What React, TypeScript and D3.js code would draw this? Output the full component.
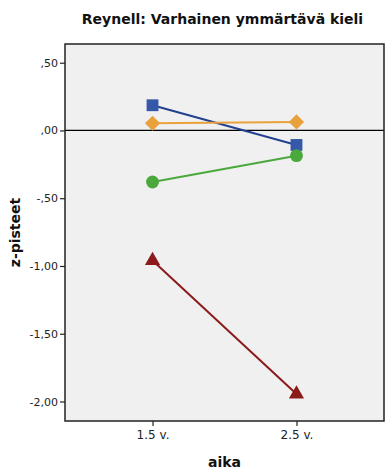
import { useEffect, useRef } from 'react';
import * as d3 from 'd3';

const TIMES = ['1.5 v.', '2.5 v.'];
const Y_TICKS = [0.5, 0, -0.5, -1, -1.5, -2];

const SQUARE = [0.186, -0.107];
const DIAMOND = [0.053, 0.063];
const CIRCLE = [-0.38, -0.186];
const TRIANGLE = [-0.96, -1.945];

const SERIES = [
  { name: 'square', values: SQUARE, line: '#22408f', fill: '#3558a8', symbol: d3.symbolSquare, size: 140, rot: 0 },
  { name: 'diamond', values: DIAMOND, line: '#e9a23b', fill: '#e9a23b', symbol: d3.symbolSquare, size: 115, rot: 45 },
  { name: 'circle', values: CIRCLE, line: '#4aa83c', fill: '#4aa83c', symbol: d3.symbolCircle, size: 130, rot: 0 },
  { name: 'triangle', values: TRIANGLE, line: '#8b1a1a', fill: '#8b1a1a', symbol: d3.symbolTriangle, size: 100, rot: 0 },
];

const fmt = (v: number) => {
  const s = Math.abs(v).toFixed(2).replace('.', ',').replace(/^0/, '');
  return (v < 0 ? '-' : '') + s;
};

export default function App() {
  const ref = useRef<SVGSVGElement>(null);

  useEffect(() => {
    if (!ref.current) return;
    const svg = d3.select(ref.current);
    svg.selectAll('*').remove();

    const W = 388, H = 473;
    const margin = { top: 44, right: 4, bottom: 52, left: 65 };
    const width = W - margin.left - margin.right;
    const height = H - margin.top - margin.bottom;
    const font = '"DejaVu Sans", sans-serif';

    svg.attr('width', W).attr('height', H);
    svg.append('rect').attr('width', W).attr('height', H).attr('fill', '#ffffff');

    const g = svg.append('g').attr('transform', `translate(${margin.left},${margin.top})`);

    const x = d3.scalePoint<string>().domain(TIMES).range([0, width]).padding(0.608);
    const y = d3.scaleLinear().domain([-2.144, 0.638]).range([height, 0]);

    g.append('rect').attr('width', width).attr('height', height).attr('fill', '#f0f0f0');

    // zero line
    g.append('line')
      .attr('x1', 0).attr('x2', width)
      .attr('y1', y(0)).attr('y2', y(0))
      .attr('stroke', '#000').attr('stroke-width', 1.2);

    // lines
    SERIES.forEach(s => {
      const line = d3.line<number>()
        .x((_, i) => x(TIMES[i])!)
        .y(v => y(v));
      g.append('path').datum(s.values)
        .attr('fill', 'none').attr('stroke', s.line).attr('stroke-width', 2)
        .attr('d', line);
    });

    // markers
    SERIES.forEach(s => {
      const sym = d3.symbol().type(s.symbol).size(s.size);
      g.selectAll(null).data(s.values).join('path')
        .attr('transform', (v, i) => `translate(${x(TIMES[i])},${y(v)}) rotate(${s.rot})`)
        .attr('d', sym)
        .attr('fill', s.fill);
    });

    // frame
    g.append('rect').attr('width', width).attr('height', height)
      .attr('fill', 'none').attr('stroke', '#222').attr('stroke-width', 1.5);

    const yAxis = g.append('g').call(d3.axisLeft(y).tickValues(Y_TICKS).tickSize(5).tickPadding(2).tickFormat(d => fmt(+d)));
    yAxis.select('.domain').remove();
    yAxis.selectAll('.tick line').attr('stroke', '#222').attr('stroke-width', 1.2);
    yAxis.selectAll('text').attr('font-family', font).attr('font-size', 11).attr('fill', '#222');

    const xAxis = g.append('g').attr('transform', `translate(0,${height})`)
      .call(d3.axisBottom(x).tickSize(5).tickPadding(4));
    xAxis.select('.domain').remove();
    xAxis.selectAll('.tick line').attr('stroke', '#222').attr('stroke-width', 1.2);
    xAxis.selectAll('text').attr('font-family', font).attr('font-size', 12).attr('fill', '#222');

    svg.append('text').attr('x', margin.left + width / 2 - 2).attr('y', 24)
      .attr('text-anchor', 'middle').attr('font-family', font).attr('font-weight', 'bold')
      .attr('font-size', 14).attr('fill', '#111').text('Reynell: Varhainen ymmärtävä kieli');

    svg.append('text').attr('x', margin.left + width / 2).attr('y', 467)
      .attr('text-anchor', 'middle').attr('font-family', font).attr('font-weight', 'bold')
      .attr('font-size', 14).attr('fill', '#111').text('aika');

    svg.append('text').attr('transform', `translate(20,${margin.top + height / 2}) rotate(-90)`)
      .attr('text-anchor', 'middle').attr('font-family', font).attr('font-weight', 'bold')
      .attr('font-size', 14).attr('fill', '#111').text('z-pisteet');
  }, []);

  return (
    <div style={{ position: 'absolute', left: 0, top: 0 }}>
      <svg ref={ref} style={{ display: 'block' }} />
    </div>
  );
}
